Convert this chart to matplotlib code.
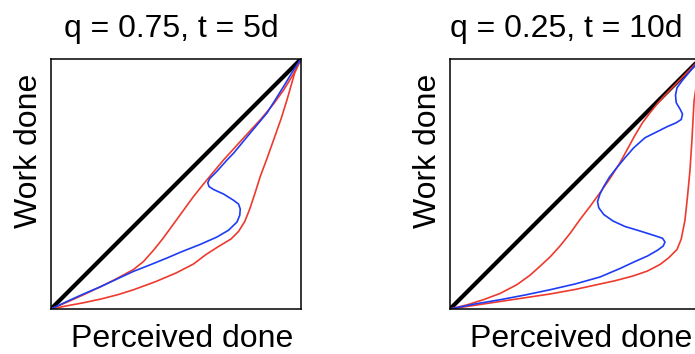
import numpy as np
import matplotlib.pyplot as plt

plt.rcParams['font.family'] = ['Liberation Sans', 'DejaVu Sans']

titles = ['q = 0.75, t = 5d', 'q = 0.25, t = 10d']
xlabel = 'Perceived done'
ylabel = 'Work done'

diag = [0, 1]

# left panel: q = 0.75, t = 5d
upper_red_L_x = [0, 0.07, 0.13, 0.2, 0.26, 0.33, 0.37, 0.41, 0.45, 0.49, 0.53, 0.57, 0.61, 0.65,
                 0.69, 0.73, 0.78, 0.84, 0.89, 0.93, 0.97, 1]
upper_red_L_y = [0, 0.03, 0.057, 0.09, 0.12, 0.158, 0.19, 0.235, 0.285, 0.34, 0.395, 0.45, 0.5, 0.548,
                 0.596, 0.64, 0.695, 0.76, 0.82, 0.875, 0.94, 1]
lower_red_L_x = [0, 0.06, 0.13, 0.2, 0.27, 0.33, 0.42, 0.5, 0.57, 0.62, 0.67, 0.72, 0.75, 0.775,
                 0.795, 0.815, 0.837, 0.865, 0.89, 0.92, 0.945, 0.975, 1]
lower_red_L_y = [0, 0.012, 0.025, 0.04, 0.058, 0.077, 0.11, 0.144, 0.18, 0.218, 0.25, 0.28, 0.31, 0.35,
                 0.4, 0.46, 0.53, 0.605, 0.675, 0.76, 0.84, 0.945, 1]
blue_L_x = [0, 0.07, 0.13, 0.2, 0.264, 0.331, 0.4, 0.464, 0.52, 0.596, 0.664, 0.71, 0.744, 0.755,
            0.757, 0.75, 0.73, 0.69, 0.65, 0.632, 0.627, 0.635, 0.664, 0.704, 0.731, 0.797, 0.864,
            0.931, 0.971, 1]
blue_L_y = [0, 0.033, 0.06, 0.09, 0.12, 0.151, 0.178, 0.204, 0.228, 0.258, 0.288, 0.315, 0.348, 0.375,
            0.4, 0.42, 0.435, 0.46, 0.478, 0.49, 0.505, 0.522, 0.551, 0.596, 0.624, 0.704, 0.784,
            0.891, 0.957, 1]

# right panel: q = 0.25, t = 10d
upper_red_R_x = [0, 0.07, 0.133, 0.2, 0.267, 0.32, 0.36, 0.4, 0.44, 0.48, 0.52, 0.56, 0.6, 0.64,
                 0.68, 0.71, 0.74, 0.77, 0.8, 0.83, 0.85, 1]
upper_red_R_y = [0, 0.017, 0.037, 0.062, 0.097, 0.135, 0.171, 0.208, 0.252, 0.302, 0.358, 0.41, 0.465, 0.522,
                 0.585, 0.64, 0.695, 0.745, 0.785, 0.822, 0.845, 1]
lower_red_R_x = [0, 0.1, 0.2, 0.3, 0.4, 0.5, 0.6, 0.66, 0.732, 0.79, 0.84, 0.875, 0.908, 0.925,
                 0.94, 0.95, 0.96, 0.968, 0.976, 0.99, 1]
lower_red_R_y = [0, 0.015, 0.03, 0.045, 0.06, 0.078, 0.1, 0.113, 0.132, 0.152, 0.178, 0.205, 0.238, 0.28,
                 0.356, 0.45, 0.556, 0.68, 0.83, 0.93, 1]
blue_R_x = [0, 0.1, 0.2, 0.3, 0.4, 0.5, 0.6, 0.68, 0.74, 0.79, 0.83, 0.853, 0.86, 0.85, 0.82, 0.76,
            0.7, 0.652, 0.615, 0.595, 0.59, 0.6, 0.615, 0.638, 0.667, 0.7, 0.735, 0.78, 0.83, 0.87,
            0.905, 0.925, 0.93, 0.92, 0.905, 0.902, 0.908, 0.93, 0.955, 1]
blue_R_y = [0, 0.02, 0.037, 0.056, 0.077, 0.1, 0.128, 0.162, 0.19, 0.212, 0.235, 0.252, 0.268, 0.283,
            0.293, 0.312, 0.33, 0.352, 0.378, 0.405, 0.43, 0.46, 0.49, 0.528, 0.565, 0.605, 0.645,
            0.685, 0.71, 0.73, 0.745, 0.758, 0.78, 0.8, 0.825, 0.855, 0.885, 0.915, 0.945, 1]

red = '#ee3a2e'
blue = '#1f3cf5'

panels = [
    (upper_red_L_x, upper_red_L_y, lower_red_L_x, lower_red_L_y, blue_L_x, blue_L_y),
    (upper_red_R_x, upper_red_R_y, lower_red_R_x, lower_red_R_y, blue_R_x, blue_R_y),
]
lefts = [51 / 695, 450 / 695]
title_x = [0.48, 0.466]

fig = plt.figure(figsize=(6.95, 3.54), dpi=100)
for i, p in enumerate(panels):
    ax = fig.add_axes([lefts[i], 45 / 354, 250 / 695, 250 / 354])
    ax.plot(diag, diag, color='black', lw=3.0, solid_capstyle='butt')
    ax.plot(p[0], p[1], color=red, lw=1.2)
    ax.plot(p[2], p[3], color=red, lw=1.2)
    ax.plot(p[4], p[5], color=blue, lw=1.2)
    ax.set_xlim(0, 1)
    ax.set_ylim(0, 1)
    ax.set_xticks([])
    ax.set_yticks([])
    for s in ax.spines.values():
        s.set_linewidth(1.1)
    ax.text(title_x[i], 1.088, titles[i], transform=ax.transAxes, fontsize=23,
            ha='center', va='baseline')
    ax.text(0.524, -0.152, xlabel, transform=ax.transAxes, fontsize=23,
            ha='center', va='baseline')
    ax.text(-0.056, 0.632, ylabel, transform=ax.transAxes, fontsize=23, rotation=90,
            rotation_mode='anchor', ha='center', va='baseline')

plt.savefig('out.png')
